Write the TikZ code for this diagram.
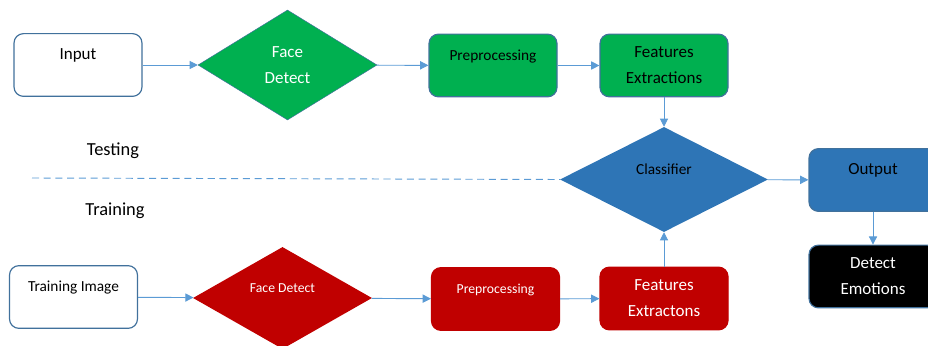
\documentclass[tikz,border=0pt]{standalone}
\usepackage{fontspec}
\setmainfont{Carlito}
\usetikzlibrary{shapes.geometric,arrows.meta}
\definecolor{edgeblue}{HTML}{41719C}
\definecolor{fillblue}{HTML}{2E75B6}
\definecolor{fillgreen}{HTML}{00B050}
\definecolor{fillred}{HTML}{C00000}
\definecolor{linkblue}{HTML}{5B9BD5}
\newcommand\fbig{\fontsize{14.5}{22}\selectfont}
\newcommand\fmid{\fontsize{13.1}{18}\selectfont}
\newcommand\fsmall{\fontsize{11.7}{16}\selectfont}
\tikzset{
   box/.style={rounded corners=8pt, line width=1pt, minimum width=3.84cm, minimum height=1.88cm, inner sep=0pt, align=center},
   diam/.style={diamond, aspect=2, inner sep=0pt, align=center},
   upper/.style={text height=10pt, text depth=19pt},
   testbox/.style={box, draw=edgeblue, fill=white, font=\fbig, upper},
   trainbox/.style={box, draw=edgeblue, fill=white, font=\fmid, upper},
   greenstep/.style={box, draw=edgeblue, fill=fillgreen, font=\fmid, upper},
   greenbox/.style={box, draw=edgeblue, fill=fillgreen, font=\fbig},
   greendiam/.style={diam, draw=edgeblue, fill=fillgreen, text=white, font=\fbig, minimum width=5.37cm, minimum height=3.3cm},
   redstep/.style={box, draw=fillred, fill=fillred, text=white, font=\fsmall, upper},
   redbox/.style={box, draw=fillred, fill=fillred, text=white, font=\fbig},
   reddiam/.style={diam, fill=fillred, text=white, font=\fsmall, upper, minimum width=5.37cm, minimum height=3.06cm},
   bluediam/.style={diam, fill=fillblue, font=\fmid, upper, minimum width=6.24cm, minimum height=3.15cm},
   bluebox/.style={box, draw=edgeblue, fill=fillblue, font=\fbig, upper},
   blackbox/.style={box, draw=edgeblue, fill=black, text=white, font=\fbig},
   phase/.style={font=\fontsize{15.7}{19}\selectfont},
   link/.style={draw=linkblue, line width=0.8pt, -{Triangle[length=7pt,width=7pt]}}
}
\begin{document}
\begin{tikzpicture}[x=0.03cm, y=-0.03cm]
   \clip (0,0) rectangle (928,346);
   \def \Steps {
      inp/78/65/testbox/Input,
      facedet/287.5/65/greendiam/Face\\Detect,
      prep/493/65.5/greenstep/Preprocessing,
      feat/664/65.5/greenbox/Features\\Extractions,
      clf/664/179.5/bluediam/Classifier,
      outp/873/180/bluebox/Output,
      emo/873/276.5/blackbox/Detect\\Emotions,
      trimg/73.5/297/trainbox/Training Image,
      trface/282.5/298/reddiam/Face Detect,
      trprep/495.5/299/redstep/Preprocessing,
      trfeat/664/298.5/redbox/Features\\Extractons}
   \def \Links {
      inp/facedet,
      facedet/prep,
      prep/feat,
      feat/clf,
      clf/outp,
      outp/emo,
      trimg/trface,
      trface/trprep,
      trprep/trfeat,
      trfeat/clf}
   \foreach \nm / \x / \y / \st / \lbl in \Steps {
      \node[\st] (\nm) at (\x, \y) {\lbl};
   }
   \foreach \u / \v in \Links {
      \path[link] (\u) -- (\v);
   }
   % testing / training split
   \coordinate (dashstart) at (32,178);
   \draw[linkblue, line width=0.8pt, dash pattern=on 6pt off 4pt] (dashstart) -- (clf.west);
   \node[phase] (testing) at (113,151) {Testing};
   \node[phase] (training) at (115,211) {Training};
\end{tikzpicture}
\end{document}
